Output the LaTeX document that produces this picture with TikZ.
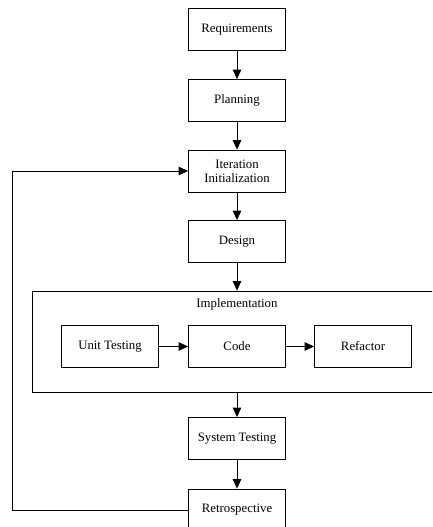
\documentclass[tikz,border=0pt]{standalone}
\usepackage{fontspec}
\setmainfont{Liberation Serif}
\usetikzlibrary{arrows.meta}

\begin{document}
\begin{tikzpicture}[x=1pt,y=-1pt,line width=0.8pt,
    stage/.style={draw,rectangle,minimum width=97pt,minimum height=42pt,
      inner sep=0pt,align=center,font=\fontsize{12.8}{14}\selectfont},
    flow/.style={-{Triangle[length=9.5pt,width=8.5pt]}}]
      \clip (0,0) rectangle (432,527);
      % main stages
      \node[stage] (req) at (237,29.5) {Requirements};
      \node[stage] (plan) at (237,100.5) {Planning};
      \node[stage] (init) at (237,171) {Iteration\\Initialization};
      \node[stage] (design) at (237,241.5) {Design};
      % implementation cluster
      \node[draw,minimum width=410pt,minimum height=101pt] (impl) at (237,341.5) {};
      \node[font=\fontsize{12.8}{14}\selectfont] (impllabel) at (237,304.5) {Implementation};
      \node[stage] (unit) at (110,346.5) {Unit Testing};
      \node[stage] (code) at (237,346.5) {Code};
      \node[stage] (refac) at (363,346.5) {Refactor};
      \node[stage] (sys) at (237,438.5) {System Testing};
      \node[stage] (retro) at (237,510) {Retrospective};
      % connectors
      \draw[flow] (req) -- (plan);
      \draw[flow] (plan) -- (init);
      \draw[flow] (init) -- (design);
      \draw[flow] (design) -- (impl.north);
      \draw[flow] (unit) -- (code);
      \draw[flow] (code) -- (refac);
      \draw[flow] (impl.south) -- (sys);
      \draw[flow] (sys) -- (retro);
      \draw[flow] (retro.west) -- ++(-176,0) |- (init.west);
\end{tikzpicture}
\end{document}
